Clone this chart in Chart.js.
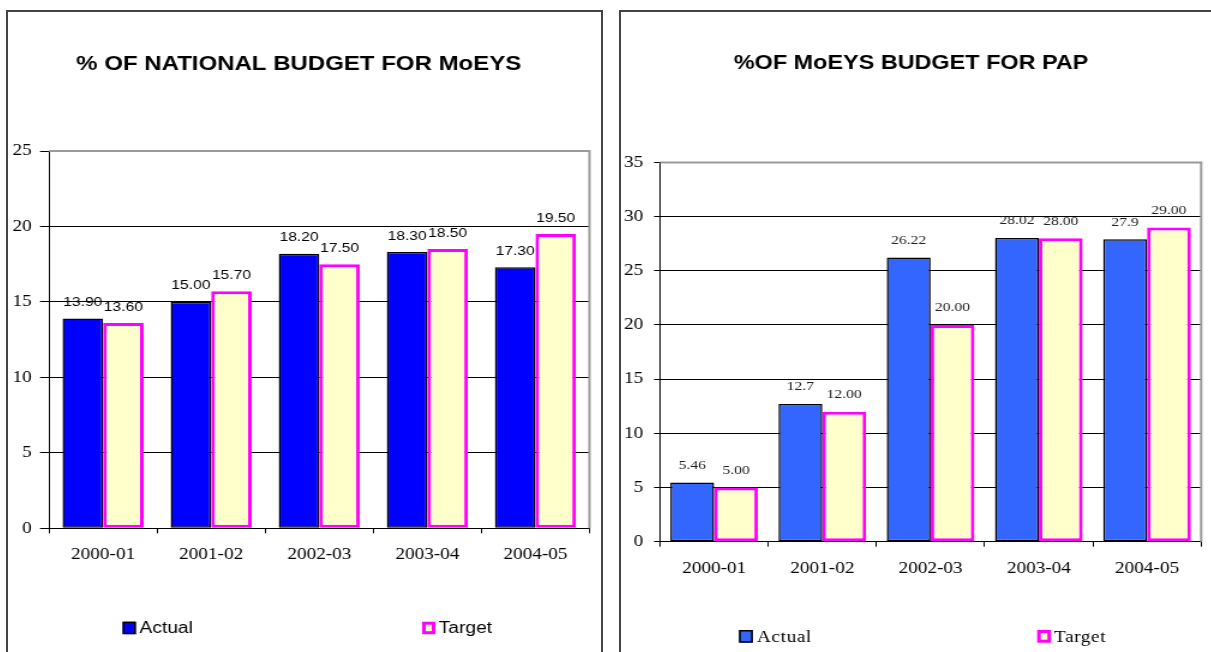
<!DOCTYPE html>
<html>
<head>
<meta charset="utf-8">
<script src="https://cdn.jsdelivr.net/npm/chart.js@4.4.1/dist/chart.umd.min.js"></script>
<style>
    body { margin: 0; background: #fff; width: 1211px; height: 652px; overflow: hidden; position: relative; }
    .panel { position: absolute; top: 10px; width: 597px; height: 660px; border: 2px solid #444; border-bottom: none; box-sizing: border-box; }
    #panelNational { left: 6px; }
    #panelPap { left: 619px; }
    .panel canvas { position: absolute; left: 0; top: 0; }
</style>
</head>
<body>
<div class="panel" id="panelNational">
    <canvas id="chartNational" width="494" height="640" style="width:593px;height:640px"></canvas>
</div>
<div class="panel" id="panelPap">
    <canvas id="chartPap" width="494" height="640" style="width:593px;height:640px"></canvas>
</div>
<script>
const years = ['2000-01', '2001-02', '2002-03', '2003-04', '2004-05'];
const seriesNames = ['Actual', 'Target'];

const nationalActual = [13.90, 15.00, 18.20, 18.30, 17.30];
const nationalTarget = [13.60, 15.70, 17.50, 18.50, 19.50];
const nationalTicks = [0, 5, 10, 15, 20, 25];

const papActual = [5.46, 12.7, 26.22, 28.02, 27.9];
const papTarget = [5.00, 12.00, 20.00, 28.00, 29.00];
const papTicks = [0, 5, 10, 15, 20, 25, 30, 35];

const SANS = "'Liberation Sans', Arial, sans-serif";
const SERIF = "'Liberation Serif', 'Times New Roman', serif";

// grey frame on top and right of the plot area (excel style)
const plotFrame = {
    id: 'plotFrame',
    beforeDatasetsDraw(chart) {
        const { ctx, chartArea: a } = chart;
        ctx.save();
        ctx.strokeStyle = '#9a9a9a';
        ctx.lineWidth = 2;
        ctx.beginPath();
        ctx.moveTo(a.left, a.top);
        ctx.lineTo(a.right, a.top);
        ctx.lineTo(a.right, a.bottom);
        ctx.stroke();
        ctx.restore();
    }
};

const barValues = (cfg) => ({
    id: 'barValues',
    afterDatasetsDraw(chart) {
        const ctx = chart.ctx;
        ctx.save();
        ctx.font = cfg.font;
        ctx.fillStyle = cfg.color;
        ctx.textAlign = 'center';
        ctx.textBaseline = 'middle';
        chart.data.datasets.forEach((ds, i) => {
            const dec = cfg.decimals[i];
            chart.getDatasetMeta(i).data.forEach((bar, j) => {
                const v = ds.data[j];
                const txt = dec == null ? String(v) : v.toFixed(dec);
                ctx.fillText(txt, bar.x, bar.y - cfg.offset);
            });
        });
        ctx.restore();
    }
});

const spreadLegend = (cfg) => ({
    id: 'spreadLegend',
    afterDraw(chart) {
        const ctx = chart.ctx;
        ctx.save();
        ctx.font = cfg.font;
        ctx.textBaseline = 'middle';
        chart.data.datasets.forEach((ds, i) => {
            const bx = cfg.boxX[i];
            const h = ds.borderWidth / 2;
            ctx.fillStyle = ds.backgroundColor;
            ctx.fillRect(bx, cfg.boxY, cfg.boxW, cfg.boxH);
            ctx.lineWidth = ds.borderWidth;
            ctx.strokeStyle = ds.borderColor;
            ctx.strokeRect(bx + h, cfg.boxY + h, cfg.boxW - 2 * h, cfg.boxH - 2 * h);
            ctx.fillStyle = '#000';
            ctx.letterSpacing = cfg.spacing;
            ctx.fillText(ds.label, cfg.textX[i], cfg.boxY + cfg.boxH / 2 + 1);
            ctx.letterSpacing = '0px';
        });
        ctx.restore();
    }
});

const makeChart = (canvasId, s) => {
    const yMax = s.ticks[s.ticks.length - 1];
    return new Chart(document.getElementById(canvasId).getContext('2d'), {
        type: 'bar',
        data: {
            labels: years,
            datasets: [{
                label: seriesNames[0],
                data: s.actual,
                backgroundColor: s.actualColor,
                borderColor: '#000',
                borderWidth: 1.5,
                borderSkipped: false
            }, {
                label: seriesNames[1],
                data: s.target,
                backgroundColor: '#ffffcc',
                borderColor: '#ff00ff',
                borderWidth: 3,
                borderSkipped: false
            }]
        },
        options: {
            responsive: false,
            devicePixelRatio: 1,
            animation: false,
            layout: { padding: { left: 0, right: s.padRight, top: 0, bottom: s.padBottom } },
            datasets: { bar: { categoryPercentage: s.catPct, barPercentage: 1 } },
            plugins: {
                title: {
                    display: true,
                    text: s.title,
                    color: '#000',
                    font: { family: SANS, size: s.titleSize, weight: 'bold' },
                    padding: { top: 40, bottom: s.titleBottom }
                },
                legend: { display: false },
                tooltip: { enabled: false }
            },
            scales: {
                x: {
                    grid: { offset: true, drawOnChartArea: false, drawTicks: true, tickLength: 5, color: '#000' },
                    border: { color: '#000', width: 1 },
                    ticks: { color: '#000', font: { family: SERIF, size: 16 }, padding: 12, maxRotation: 0 },
                    afterFit: sc => { sc.height = 50; }
                },
                y: {
                    min: 0,
                    max: yMax,
                    afterBuildTicks: sc => { sc.ticks = s.ticks.map(v => ({ value: v })); },
                    grid: {
                        color: c => (c.tick && c.tick.value === yMax) ? 'rgba(0,0,0,0)' : '#000',
                        tickColor: '#000',
                        tickLength: s.yTickLen,
                        lineWidth: 1
                    },
                    border: { color: '#000', width: 1 },
                    ticks: { color: '#000', font: { family: SERIF, size: 16 }, padding: s.yPad },
                    afterFit: sc => { sc.width = s.yWidth; }
                }
            }
        },
        plugins: [plotFrame, barValues(s.values), spreadLegend(s.legend)]
    });
};

makeChart('chartNational', {
    title: '% OF NATIONAL BUDGET FOR MoEYS',
    titleSize: 20,
    titleBottom: 75,
    actual: nationalActual,
    target: nationalTarget,
    ticks: nationalTicks,
    actualColor: '#0000ff',
    catPct: 0.75,
    padRight: 9.6,
    padBottom: 73.7,
    yWidth: 34.2,
    yTickLen: 7.5,
    yPad: 7,
    values: { font: `13px ${SANS}`, color: '#000', offset: 16, decimals: [2, 2] },
    legend: { font: `16px ${SANS}`, spacing: '0px', boxX: [95.5, 345], boxY: 609.7, boxW: 11, boxH: 12.5, textX: [109.6, 358.75] }
});

makeChart('chartPap', {
    title: '%OF MoEYS BUDGET FOR PAP',
    titleSize: 19.5,
    titleBottom: 87,
    actual: papActual,
    target: papTarget,
    ticks: papTicks,
    actualColor: '#3366ff',
    catPct: 0.81,
    padRight: 10.7,
    padBottom: 60.3,
    yWidth: 32.5,
    yTickLen: 5,
    yPad: 9,
    values: { font: `13px ${SERIF}`, color: '#222', offset: 17, decimals: [null, 2] },
    legend: { font: `16px ${SERIF}`, spacing: '0.5px', boxX: [98.3, 346.7], boxY: 618, boxW: 11.5, boxH: 12.7, textX: [113.3, 360.8] }
});
</script>
</body>
</html>
